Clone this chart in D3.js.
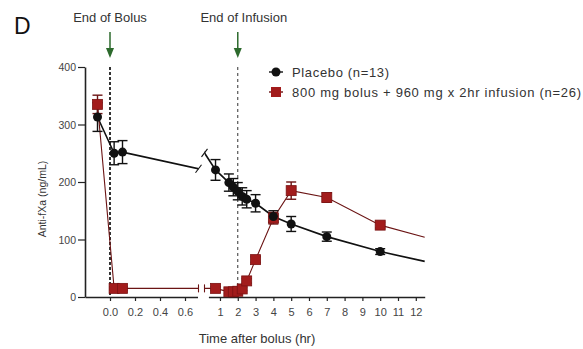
<!DOCTYPE html>
<html>
<head>
<meta charset="utf-8">
<script src="https://cdn.jsdelivr.net/npm/d3@7"></script>
<style>
body { margin: 0; background: #fff; }
text { font-family: "Liberation Sans", Arial, sans-serif; fill: #222; }
</style>
</head>
<body>
<svg width="583" height="349"></svg>
<script>
var WIDTH = 583;
var HEIGHT = 349;

//sampling times (hr after end of bolus)
var times = [-0.1, 0.033, 0.1, 0.75, 1.5, 1.75, 2, 2.25, 2.5, 3, 4, 5, 7, 10];
//placebo mean and sem
var placebo = [313, 250, 252, 221, 199, 191, 184, 175, 170, 163, 140, 127, 105, 79];
var placeboErr = [25, 20, 20, 18, 15, 15, 15, 15, 15, 15, 10, 13, 8, 5];
//andexanet mean and sem
var active = [335, 15, 15, 15, 9, 9, 10, 14, 28, 65, 137, 185, 173, 125];
var activeErr = [16, 3, 3, 3, 3, 3, 3, 3, 4, 5, 10, 15, 8, 5];
//line carried on past the last sample
var tailTime = 12.5;
var placeboTail = 62;
var activeTail = 104;

var yTicks = [0, 100, 200, 300, 400];
var xTicks1 = [0, 0.2, 0.4, 0.6];
var xTicks2 = [1, 2, 3, 4, 5, 6, 7, 8, 9, 10, 11, 12];
var events = [{"label": "End of Bolus", "t": 0}, {"label": "End of Infusion", "t": 2}];
var seriesNames = ["Placebo (n=13)", "800 mg bolus + 960 mg x 2hr infusion (n=26)"];

var svg = d3.select("svg").attr("width", WIDTH).attr("height", HEIGHT);

//two pieces of x axis with a break between them
var x1 = d3.scaleLinear().domain([-0.2, 0.7]).range([85, 197.5]);
var x2 = d3.scaleLinear().domain([0.35, 12.5]).range([208.4, 424.7]);
var y = d3.scaleLinear().domain([0, 400]).range([297, 67]);
function xAny(t) { return t <= 0.7 ? x1(t) : x2(t); }

var defs = svg.append("defs");
defs.append("clipPath").attr("id", "c1").append("rect")
    .attr("x", 80).attr("y", 0).attr("width", 118.5).attr("height", HEIGHT);
defs.append("clipPath").attr("id", "c2").append("rect")
    .attr("x", 204.5).attr("y", 0).attr("width", 230).attr("height", HEIGHT);

//panel letter
svg.append("text").attr("x", 14).attr("y", 34)
    .style("font-size", "23px").style("fill", "#111").text("D");

//y axis
svg.append("g").attr("transform", "translate(85,0)")
    .call(d3.axisLeft(y).tickValues(yTicks).tickSize(7).tickSizeOuter(0))
    .call(function(g) {
        g.select(".domain").attr("stroke", "#222").attr("stroke-width", 1.6);
        g.selectAll(".tick line").attr("stroke", "#222").attr("stroke-width", 1.2);
        g.selectAll("text").style("font-size", "10.5px").style("fill", "#444").attr("x", -9).attr("dy", "0.35em");
    });

//x axis, both pieces
function styleX(g) {
    g.select(".domain").attr("stroke", "#222").attr("stroke-width", 1.6);
    g.selectAll(".tick line").attr("stroke", "#222").attr("stroke-width", 1.2);
    g.selectAll("text").style("font-size", "11px").style("fill", "#444").attr("y", 11);
}
svg.append("g").attr("transform", "translate(0,297)")
    .call(d3.axisBottom(x1).tickValues(xTicks1).tickFormat(d3.format(".1f")).tickSize(4).tickSizeOuter(0))
    .call(styleX);
svg.append("g").attr("transform", "translate(0,297)")
    .call(d3.axisBottom(x2).tickValues(xTicks2).tickFormat(d3.format("d")).tickSize(4).tickSizeOuter(0))
    .call(styleX);

//axis titles
svg.append("text").attr("x", 257).attr("y", 343).attr("text-anchor", "middle")
    .style("font-size", "13px").style("fill", "#333").text("Time after bolus (hr)");
svg.append("text").attr("transform", "translate(46,199) rotate(-90)").attr("text-anchor", "middle")
    .style("font-size", "10.5px").style("fill", "#333").text("Anti-fXa (ng/mL)");

//dashed event lines, arrows and labels
var ev = svg.selectAll(".event").data(events).enter().append("g").attr("class", "event");
ev.append("line")
    .attr("x1", function(d) { return xAny(d.t); }).attr("x2", function(d) { return xAny(d.t); })
    .attr("y1", y(400)).attr("y2", y(0))
    .attr("stroke", "#333")
    .attr("stroke-width", function(d, i) { return i == 0 ? 2 : 1; })
    .attr("stroke-dasharray", function(d, i) { return i == 0 ? "3,2" : "3,3"; });
ev.append("line")
    .attr("x1", function(d) { return xAny(d.t); }).attr("x2", function(d) { return xAny(d.t); })
    .attr("y1", 32).attr("y2", 50)
    .attr("stroke", "#2d6a2d").attr("stroke-width", 1.5);
ev.append("path")
    .attr("d", function(d) { var x = xAny(d.t); return "M" + (x - 4) + ",48L" + (x + 4) + ",48L" + x + ",58Z"; })
    .attr("fill", "#2d6a2d");
ev.append("text")
    .attr("x", function(d, i) { return xAny(d.t) + (i == 0 ? 0 : 6); }).attr("y", 22)
    .attr("text-anchor", "middle").style("font-size", "13px").style("fill", "#333")
    .text(function(d) { return d.label; });

//build the series
var series = [
    {"vals": placebo, "err": placeboErr, "tail": placeboTail, "color": "#111", "line": "#111", "lw": 1.6},
    {"vals": active, "err": activeErr, "tail": activeTail, "color": "#a21c1c", "line": "#6b1414", "lw": 1.1}
];
series.forEach(function(s) {
    s.points = times.map(function(t, i) { return {"t": t, "v": s.vals[i], "e": s.err[i]}; });
    s.linePts = s.points.concat([{"t": tailTime, "v": s.tail}]);
});

//lines drawn once per axis piece, clipped at the break
[[x1, "c1"], [x2, "c2"]].forEach(function(p) {
    var sx = p[0];
    var line = d3.line().x(function(d) { return sx(d.t); }).y(function(d) { return y(d.v); });
    svg.append("g").attr("clip-path", "url(#" + p[1] + ")")
        .selectAll("path").data(series).enter().append("path")
        .attr("d", function(s) { return line(s.linePts); })
        .attr("fill", "none")
        .attr("stroke", function(s) { return s.line; })
        .attr("stroke-width", function(s) { return s.lw; });
});

//small break marks where the lines are cut
series.forEach(function(s, si) {
    var a = s.points[2], b = s.points[3];
    [[x1.invert(198.5), x1], [x2.invert(204.5), x2]].forEach(function(q) {
        var v = a.v + (b.v - a.v) * (q[0] - a.t) / (b.t - a.t);
        var px = q[1](q[0]), py = y(v);
        svg.append("line")
            .attr("x1", px - (si == 0 ? 3 : 0)).attr("y1", py + 4)
            .attr("x2", px + (si == 0 ? 3 : 0)).attr("y2", py - 4)
            .attr("stroke", s.line).attr("stroke-width", 1.1);
    });
});

//error bars
series.forEach(function(s) {
    var g = svg.append("g").selectAll("g").data(s.points).enter().append("g")
        .attr("stroke", s.line).attr("stroke-width", 1.4);
    g.append("line")
        .attr("x1", function(d) { return xAny(d.t); }).attr("x2", function(d) { return xAny(d.t); })
        .attr("y1", function(d) { return y(d.v - d.e); }).attr("y2", function(d) { return y(d.v + d.e); });
    [-1, 1].forEach(function(k) {
        g.append("line")
            .attr("x1", function(d) { return xAny(d.t) - 5; }).attr("x2", function(d) { return xAny(d.t) + 5; })
            .attr("y1", function(d) { return y(d.v + k * d.e); }).attr("y2", function(d) { return y(d.v + k * d.e); });
    });
});

//markers: red squares then black dots
svg.append("g").selectAll("rect").data(series[1].points).enter().append("rect")
    .attr("x", function(d) { return xAny(d.t) - 5; }).attr("y", function(d) { return y(d.v) - 5; })
    .attr("width", 10).attr("height", 10)
    .attr("fill", "#a21c1c").attr("stroke", "#7a1212").attr("stroke-width", 0.8);
svg.append("g").selectAll("circle").data(series[0].points).enter().append("circle")
    .attr("cx", function(d) { return xAny(d.t); }).attr("cy", function(d) { return y(d.v); })
    .attr("r", 4.5).attr("fill", "#111");

//legend (text stretched to the width it has in the figure)
var legWidths = [97, 289];
var leg = svg.append("g").selectAll("g").data(seriesNames).enter().append("g")
    .attr("transform", function(d, i) { return "translate(276," + (72 + i * 20) + ")"; });
leg.append("line").attr("x1", -7).attr("x2", 7).attr("y1", 0).attr("y2", 0)
    .attr("stroke", function(d, i) { return series[i].line; }).attr("stroke-width", 1.4);
leg.filter(function(d, i) { return i == 0; }).append("circle").attr("r", 4.5).attr("fill", "#111");
leg.filter(function(d, i) { return i == 1; }).append("rect")
    .attr("x", -5).attr("y", -5).attr("width", 10).attr("height", 10).attr("fill", "#a21c1c");
leg.append("text").attr("x", 16).attr("dy", "0.35em").style("font-size", "13px").style("fill", "#333")
    .attr("textLength", function(d, i) { return legWidths[i]; })
    .attr("lengthAdjust", "spacing")
    .text(function(d) { return d; });
</script>
</body>
</html>
